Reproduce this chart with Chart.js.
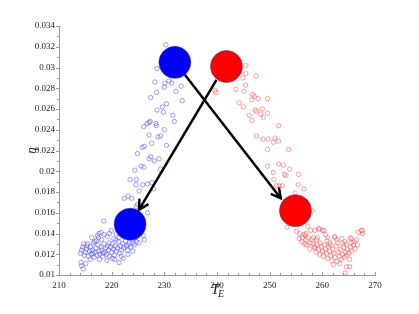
<!DOCTYPE html>
<html>
<head>
<meta charset="utf-8">
<script src="https://cdn.jsdelivr.net/npm/chart.js@4"></script>
<style>
  html, body { margin: 0; padding: 0; background: #fff; }
</style>
</head>
<body>
<canvas id="chart" width="419" height="314"></canvas>
<script>
// scattered samples, blue branch (T_E, eta)
const blueTE = [
  230.3, 228.6, 228.2, 230.1, 230.9, 231.4, 230.0, 233.2, 232.2, 228.5,
  227.4, 233.4, 230.4, 229.6, 228.6, 229.8, 231.6, 231.9, 227.3, 226.7,
  226.1, 227.1, 228.4, 228.5, 230.0, 227.1, 228.8, 229.3, 227.6, 230.4,
  225.8, 226.2, 224.9, 227.4, 227.1, 228.1, 229.0, 225.6, 226.1, 224.4,
  229.3, 223.5, 224.7, 224.6, 225.9, 226.8, 227.6, 225.2, 228.0, 222.4,
  223.1, 223.8, 224.9, 224.7, 226.8, 223.8, 218.5, 219.9, 218.0, 217.6,
  217.5, 218.1, 216.8, 219.2, 220.4, 221.4, 226.0, 224.7, 224.1, 223.1,
  222.2, 220.6, 221.4, 214.2, 214.3, 214.6, 215.1,
  214.1, 214.3, 214.5, 214.8, 215.0, 215.2, 215.4, 215.6, 215.8, 216.0,
  216.1, 216.3, 216.5, 216.7, 216.9, 217.0, 217.2, 217.4, 217.6, 217.8,
  218.0, 218.1, 218.3, 218.5, 218.7, 218.9, 219.0, 219.2, 219.4, 219.6,
  219.8, 220.0, 220.1, 220.3, 220.5, 220.7, 220.9, 221.1, 221.3, 221.5,
  221.7, 221.9, 222.1, 222.3, 222.6, 222.8, 223.0, 223.3, 223.6, 223.9,
  224.3, 224.6, 215.3, 216.4, 217.1, 218.4, 219.5, 220.2, 220.8, 221.8,
  214.7, 215.9, 217.7, 219.1, 223.1, 224.0, 225.2, 226.2, 218.6, 219.6,
  216.2, 217.3, 220.9, 222.4
];
const blueEta = [
  0.0322, 0.0299, 0.0286, 0.0285, 0.0287, 0.0285, 0.0281, 0.0282, 0.0277, 0.0276,
  0.0271, 0.0268, 0.0265, 0.0262, 0.0259, 0.0257, 0.0254, 0.0248, 0.0248, 0.0246,
  0.0243, 0.0247, 0.0246, 0.0244, 0.0240, 0.0235, 0.0233, 0.0234, 0.0227, 0.0225,
  0.0223, 0.0224, 0.0217, 0.0214, 0.0212, 0.0210, 0.0212, 0.0205, 0.0204, 0.0201,
  0.0202, 0.0192, 0.0192, 0.0187, 0.0187, 0.0188, 0.0189, 0.0181, 0.0183, 0.0174,
  0.0176, 0.0174, 0.0168, 0.0166, 0.0160, 0.0162, 0.0152, 0.0143, 0.0141, 0.0140,
  0.0136, 0.0134, 0.0132, 0.0137, 0.0135, 0.0136, 0.0138, 0.0132, 0.0131, 0.0129,
  0.0116, 0.0115, 0.0112, 0.0112, 0.0109, 0.0106, 0.0111,
  0.0121, 0.0124, 0.0127, 0.0119, 0.0122, 0.0125, 0.0130, 0.0118, 0.0123, 0.0127,
  0.0120, 0.0124, 0.0131, 0.0117, 0.0122, 0.0126, 0.0119, 0.0129, 0.0123, 0.0120,
  0.0127, 0.0124, 0.0118, 0.0130, 0.0122, 0.0126, 0.0120, 0.0128, 0.0124, 0.0118,
  0.0127, 0.0122, 0.0130, 0.0125, 0.0119, 0.0128, 0.0123, 0.0126, 0.0132, 0.0121,
  0.0128, 0.0124, 0.0130, 0.0126, 0.0133, 0.0128, 0.0124, 0.0131, 0.0127, 0.0134,
  0.0129, 0.0136, 0.0128, 0.0121, 0.0133, 0.0121, 0.0131, 0.0116, 0.0134, 0.0118,
  0.0130, 0.0115, 0.0115, 0.0114, 0.0120, 0.0123, 0.0131, 0.0134, 0.0139, 0.0140,
  0.0136, 0.0138, 0.0140, 0.0138
];

// scattered samples, red branch
const redTE = [
  245.5, 245.5, 247.4, 244.9, 245.4, 243.6, 245.1, 239.6, 239.8, 246.8,
  247.1, 246.6, 247.8, 249.6, 244.2, 245.0, 247.2, 247.5, 248.6, 246.1,
  248.3, 248.8, 249.6, 246.6, 251.7, 253.6, 249.6, 247.5, 248.7, 249.7,
  250.7, 251.0, 251.7, 249.6, 251.7, 252.6, 253.8, 250.7, 252.8, 253.1,
  255.5, 250.8, 251.3, 251.8, 252.4, 255.4, 256.5, 254.8, 258.1, 253.3,
  255.1, 255.7, 257.2, 257.8, 258.6, 259.3, 260.3, 256.8, 257.3, 256.9,
  258.3, 258.9, 257.0, 257.6, 258.6, 264.3, 265.5, 266.8, 267.6, 262.4,
  262.8, 264.6, 265.2, 264.3, 265.2, 259.4, 260.0, 256.5, 256.9, 255.6,
  256.2, 265.3, 265.5, 264.5, 267.4, 267.6, 266.5, 261.4, 262.3,
  258.2, 258.5, 258.8, 259.0, 259.3, 259.5, 259.8, 260.0, 260.2, 260.4,
  260.6, 260.8, 261.0, 261.2, 261.4, 261.6, 261.8, 262.0, 262.2, 262.4,
  262.6, 262.8, 263.0, 263.2, 263.4, 263.6, 263.8, 264.0, 264.2, 264.4,
  264.6, 264.8, 265.0, 265.3, 265.6, 265.9, 266.2, 259.6, 260.9, 261.5,
  262.9, 263.9, 262.1, 263.3, 257.7, 258.0, 259.1, 260.6, 261.0, 263.7,
  266.0, 266.7, 256.1, 256.6
];
const redEta = [
  0.0302, 0.0294, 0.0292, 0.0290, 0.0283, 0.0279, 0.0277, 0.0278, 0.0276, 0.0274,
  0.0272, 0.0269, 0.0270, 0.0270, 0.0266, 0.0262, 0.0259, 0.0258, 0.0260, 0.0254,
  0.0255, 0.0252, 0.0256, 0.0249, 0.0244, 0.0221, 0.0221, 0.0234, 0.0231, 0.0231,
  0.0228, 0.0232, 0.0229, 0.0205, 0.0207, 0.0206, 0.0202, 0.0199, 0.0197, 0.0196,
  0.0197, 0.0192, 0.0186, 0.0186, 0.0186, 0.0187, 0.0183, 0.0179, 0.0162, 0.0146,
  0.0142, 0.0140, 0.0147, 0.0143, 0.0143, 0.0145, 0.0143, 0.0138, 0.0136, 0.0134,
  0.0136, 0.0134, 0.0129, 0.0125, 0.0126, 0.0132, 0.0135, 0.0141, 0.0143, 0.0136,
  0.0134, 0.0108, 0.0108, 0.0102, 0.0115, 0.0144, 0.0143, 0.0139, 0.0140, 0.0135,
  0.0136, 0.0136, 0.0131, 0.0130, 0.0143, 0.0140, 0.0134, 0.0131, 0.0137,
  0.0130, 0.0127, 0.0122, 0.0129, 0.0125, 0.0120, 0.0127, 0.0123, 0.0118, 0.0129,
  0.0125, 0.0121, 0.0116, 0.0127, 0.0123, 0.0119, 0.0114, 0.0125, 0.0121, 0.0117,
  0.0128, 0.0113, 0.0122, 0.0118, 0.0125, 0.0115, 0.0120, 0.0127, 0.0117, 0.0122,
  0.0119, 0.0125, 0.0121, 0.0127, 0.0123, 0.0129, 0.0125, 0.0131, 0.0133, 0.0129,
  0.0131, 0.0130, 0.0110, 0.0111, 0.0131, 0.0134, 0.0136, 0.0139, 0.0136, 0.0135,
  0.0132, 0.0129, 0.0132, 0.0130
];

// big markers (top state, bottom state)
const blueStateTE = [232.0, 223.5];
const blueStateEta = [0.0305, 0.0149];
const redStateTE = [241.8, 254.9];
const redStateEta = [0.0301, 0.0162];

// arrows: start -> tip
const arrowRedToBlueTE = [239.9, 225.2];
const arrowRedToBlueEta = [0.0288, 0.0163];
const arrowBlueToRedTE = [233.9, 252.1];
const arrowBlueToRedEta = [0.0293, 0.0174];

const xTicks = [210, 220, 230, 240, 250, 260, 270];
const yTicks = [0.01, 0.012, 0.014, 0.016, 0.018, 0.02, 0.022, 0.024, 0.026, 0.028, 0.03, 0.032, 0.034];

const pair = (xs, ys) => xs.map((x, i) => ({x, y: ys[i]}));
const serif = "'Liberation Serif', 'DejaVu Serif', serif";

// minor/major tick marks, drawn with the chart's own scales
const axisTicks = {
  id: 'axisTicks',
  afterDraw(chart) {
    const {ctx, chartArea, scales: {x, y}} = chart;
    ctx.save();
    ctx.strokeStyle = '#999';
    ctx.lineWidth = 1;
    ctx.beginPath();
    for (let i = 0; i <= 30; i++) {
      const px = Math.round(x.getPixelForValue(210 + i * 2)) + 0.5;
      const len = i % 5 === 0 ? 3 : 2;
      ctx.moveTo(px, chartArea.bottom);
      ctx.lineTo(px, chartArea.bottom - len);
    }
    for (let i = 0; i <= 24; i++) {
      const py = Math.round(y.getPixelForValue(0.01 + i * 0.001)) + 0.5;
      const len = i % 2 === 0 ? 3 : 2;
      ctx.moveTo(chartArea.left, py);
      ctx.lineTo(chartArea.left - len, py);
    }
    ctx.stroke();

    // x axis title T_E
    const cx = (chartArea.left + chartArea.right) / 2;
    ctx.fillStyle = '#222';
    ctx.textBaseline = 'alphabetic';
    ctx.textAlign = 'left';
    ctx.font = 'italic 15px ' + serif;
    ctx.fillText('T', cx - 6, chartArea.bottom + 19);
    ctx.font = 'italic 10px ' + serif;
    ctx.fillText('E', cx + 1, chartArea.bottom + 22);
    ctx.restore();
  }
};

const arrowHeads = {
  id: 'arrowHeads',
  afterDatasetsDraw(chart) {
    const ctx = chart.ctx;
    chart.data.datasets.forEach((ds, i) => {
      if (!ds.arrow) return;
      const pts = chart.getDatasetMeta(i).data;
      const a = pts[0], b = pts[1];
      const ang = Math.atan2(b.y - a.y, b.x - a.x);
      const len = 11, spread = 0.5;
      ctx.save();
      ctx.strokeStyle = ds.borderColor;
      ctx.lineWidth = ds.borderWidth;
      ctx.lineJoin = 'miter';
      ctx.beginPath();
      ctx.moveTo(b.x - len * Math.cos(ang - spread), b.y - len * Math.sin(ang - spread));
      ctx.lineTo(b.x, b.y);
      ctx.lineTo(b.x - len * Math.cos(ang + spread), b.y - len * Math.sin(ang + spread));
      ctx.stroke();
      ctx.restore();
    });
  }
};

const canvas = document.getElementById('chart');

const chart = new Chart(canvas, {
  type: 'scatter',
  data: {
    datasets: [
      {
        data: pair(blueStateTE, blueStateEta),
        backgroundColor: '#0000ff',
        borderColor: 'rgba(70,70,140,0.55)',
        borderWidth: 1,
        pointRadius: 16,
        order: 0
      },
      {
        data: pair(redStateTE, redStateEta),
        backgroundColor: '#ff0000',
        borderColor: 'rgba(70,70,140,0.6)',
        borderWidth: 1,
        pointRadius: 16,
        order: 0
      },
      {
        data: pair(arrowRedToBlueTE, arrowRedToBlueEta),
        showLine: true,
        arrow: true,
        borderColor: '#000',
        borderWidth: 2.5,
        pointRadius: 0,
        order: 1
      },
      {
        data: pair(arrowBlueToRedTE, arrowBlueToRedEta),
        showLine: true,
        arrow: true,
        borderColor: '#000',
        borderWidth: 2.5,
        pointRadius: 0,
        order: 1
      },
      {
        data: pair(blueTE, blueEta),
        backgroundColor: 'rgba(0,0,0,0)',
        borderColor: 'rgba(80,80,255,0.7)',
        borderWidth: 0.8,
        pointRadius: 2.2,
        order: 2
      },
      {
        data: pair(redTE, redEta),
        backgroundColor: 'rgba(0,0,0,0)',
        borderColor: 'rgba(255,70,70,0.65)',
        borderWidth: 0.8,
        pointRadius: 2.2,
        order: 2
      }
    ]
  },
  options: {
    responsive: false,
    animation: false,
    layout: {padding: {left: 20, top: 26, right: 44, bottom: 0}},
    plugins: {legend: {display: false}, tooltip: {enabled: false}},
    scales: {
      x: {
        type: 'linear',
        min: 210,
        max: 270,
        afterBuildTicks: s => { s.ticks = xTicks.map(v => ({value: v})); },
        ticks: {padding: 5, color: '#222', font: {family: serif, size: 9}},
        grid: {drawOnChartArea: false, drawTicks: false},
        border: {color: '#999', width: 1},
        afterFit: s => { s.height = 39; }
      },
      y: {
        min: 0.01,
        max: 0.034,
        afterBuildTicks: s => { s.ticks = yTicks.map(v => ({value: v})); },
        ticks: {
          padding: 4,
          color: '#222',
          font: {family: serif, size: 9},
          callback: v => String(+v.toFixed(3))
        },
        title: {
          display: true,
          text: 'η',
          color: '#222',
          font: {family: serif, style: 'italic', size: 13},
          padding: {top: 4, bottom: 4}
        },
        grid: {drawOnChartArea: false, drawTicks: false},
        border: {color: '#999', width: 1},
        afterFit: s => { s.width = 39; }
      }
    }
  },
  plugins: [axisTicks, arrowHeads]
});
</script>
</body>
</html>
